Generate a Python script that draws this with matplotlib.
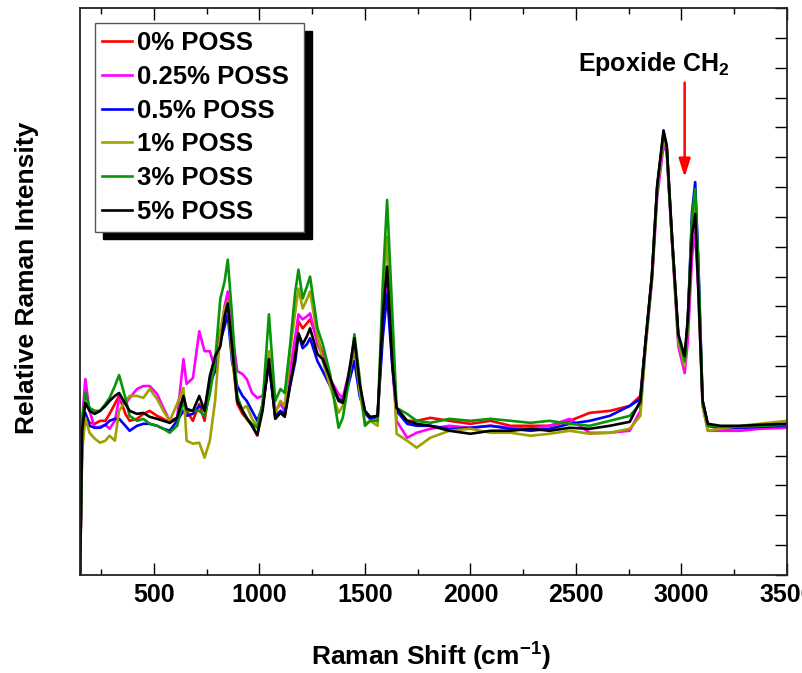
import matplotlib.pyplot as plt
from matplotlib.ticker import MultipleLocator

plt.rcParams['font.family'] = ['Liberation Sans', 'DejaVu Sans']
plt.rcParams['font.weight'] = 'bold'
plt.rcParams['mathtext.fontset'] = 'custom'
plt.rcParams['mathtext.rm'] = 'Liberation Sans:bold'
plt.rcParams['mathtext.bf'] = 'Liberation Sans:bold'
plt.rcParams['mathtext.it'] = 'Liberation Sans:bold'
plt.rcParams['mathtext.default'] = 'bf'

# Raman shift (cm-1), shared by all spectra
shift = [150, 160, 175, 195, 220, 245, 270, 290, 315, 335,
         365, 385, 420, 450, 480, 515, 545, 575, 610, 640,
         655, 685, 715, 740, 765, 790, 815, 835, 850, 870,
         895, 920, 940, 965, 990, 1015, 1045, 1075, 1100, 1120,
         1145, 1170, 1185, 1205, 1225, 1240, 1275, 1300, 1335, 1375,
         1395, 1420, 1450, 1475, 1500, 1525, 1560, 1585, 1605, 1630,
         1650, 1700, 1745, 1810, 1900, 2000, 2095, 2190, 2285, 2375,
         2470, 2565, 2660, 2755, 2805, 2830, 2860, 2885, 2915, 2930,
         2955, 2985, 3015, 3030, 3050, 3065, 3080, 3100, 3125, 3185,
         3280, 3370, 3500]

# relative intensities (arb. units)
poss_0 = [0, 135, 162, 153, 152, 155, 155, 162, 172, 180,
          162, 155, 157, 162, 165, 160, 157, 153, 157, 180,
          165, 155, 172, 155, 190, 215, 245, 263, 275, 225,
          172, 162, 157, 150, 140, 170, 215, 158, 165, 160,
          195, 230, 255, 248, 253, 257, 238, 222, 195, 177,
          175, 195, 228, 185, 163, 157, 159, 255, 305, 215,
          165, 155, 155, 158, 155, 152, 155, 150, 150, 150,
          155, 163, 165, 170, 180, 235, 300, 390, 443, 430,
          340, 240, 215, 255, 355, 375, 300, 175, 150, 147,
          148, 149, 150]
poss_025 = [0, 155, 197, 165, 148, 149, 151, 147, 155, 177,
            172, 178, 187, 190, 190, 182, 168, 155, 158, 217,
            192, 198, 245, 225, 225, 207, 240, 270, 285, 245,
            205, 202, 197, 183, 178, 180, 213, 165, 172, 165,
            205, 240, 262, 257, 260, 263, 232, 220, 197, 182,
            178, 200, 232, 190, 165, 158, 157, 255, 300, 210,
            155, 138, 143, 147, 150, 148, 150, 148, 147, 150,
            157, 143, 143, 145, 165, 230, 295, 380, 432, 425,
            335, 230, 203, 235, 320, 345, 285, 170, 145, 145,
            145, 147, 148]
poss_05 = [0, 135, 163, 150, 148, 148, 151, 155, 157, 157,
           150, 145, 150, 152, 152, 150, 147, 145, 155, 165,
           160, 162, 170, 167, 192, 205, 235, 250, 262, 215,
           190, 180, 175, 165, 155, 170, 212, 160, 165, 162,
           190, 215, 242, 228, 232, 238, 215, 205, 190, 177,
           175, 190, 215, 180, 163, 157, 160, 240, 282, 210,
           165, 152, 150, 150, 147, 148, 150, 147, 145, 147,
           152, 155, 160, 170, 177, 235, 300, 390, 442, 428,
           338, 238, 213, 255, 365, 395, 315, 175, 150, 148,
           148, 149, 150]
poss_1 = [0, 125, 158, 143, 137, 133, 135, 140, 135, 165,
          175, 180, 180, 178, 187, 177, 165, 155, 172, 188,
          135, 132, 133, 118, 135, 175, 245, 268, 275, 220,
          175, 167, 170, 157, 150, 172, 225, 163, 175, 170,
          225, 265, 288, 268, 277, 285, 240, 215, 190, 163,
          170, 195, 232, 185, 152, 155, 150, 275, 340, 235,
          142, 135, 128, 138, 145, 147, 143, 143, 140, 142,
          145, 142, 143, 147, 160, 230, 298, 387, 440, 427,
          337, 235, 210, 250, 350, 370, 295, 170, 145, 147,
          150, 152, 155]
poss_3 = [0, 155, 183, 168, 165, 165, 172, 178, 190, 201,
          178, 160, 155, 157, 152, 150, 147, 143, 150, 175,
          165, 165, 165, 160, 182, 215, 278, 295, 317, 262,
          180, 165, 157, 152, 148, 172, 262, 175, 187, 183,
          230, 285, 307, 278, 290, 300, 248, 232, 202, 148,
          158, 190, 242, 198, 150, 155, 155, 295, 377, 262,
          168, 162, 155, 153, 157, 155, 157, 155, 153, 155,
          152, 150, 155, 160, 172, 235, 300, 390, 445, 430,
          340, 240, 215, 255, 360, 388, 310, 175, 150, 149,
          149, 150, 151]
poss_5 = [0, 145, 173, 165, 162, 165, 170, 175, 180, 183,
          172, 165, 162, 163, 159, 157, 155, 153, 158, 180,
          167, 165, 180, 165, 200, 220, 230, 260, 273, 230,
          175, 165, 158, 150, 141, 165, 217, 157, 163, 159,
          190, 220, 243, 232, 240, 248, 222, 217, 198, 175,
          173, 198, 238, 192, 165, 159, 160, 262, 310, 212,
          168, 155, 152, 150, 145, 142, 145, 145, 147, 145,
          148, 147, 150, 154, 175, 235, 302, 392, 447, 432,
          340, 242, 220, 258, 342, 363, 285, 175, 152, 150,
          150, 151, 152]

labels = ['0% POSS', '0.25% POSS ', '0.5% POSS', '1% POSS', '3% POSS', '5% POSS']
colors = ['#ff0000', '#ff00ff', '#0000ff', '#a0a000', '#089608', '#000000']
spectra = [poss_0, poss_025, poss_05, poss_1, poss_3, poss_5]

fig = plt.figure(figsize=(8.02, 6.73), dpi=100)
ax = fig.add_axes([0.0998, 0.1456, 0.8815, 0.8425])

for y, c, lab in zip(spectra, colors, labels):
    ax.plot(shift, y, color=c, lw=1.9, label=lab)

ax.set_xlim(150, 3500)
ax.set_ylim(0, 570)
ax.xaxis.set_major_locator(MultipleLocator(500))
ax.xaxis.set_minor_locator(MultipleLocator(250))
ax.yaxis.set_major_locator(MultipleLocator(30))
ax.tick_params(axis='x', which='major', direction='in', top=True, length=8.5,
               width=1, labelsize=18, pad=6)
ax.tick_params(axis='x', which='minor', direction='in', top=True, length=4.5, width=1)
ax.tick_params(axis='y', which='both', direction='in', left=False, right=True,
               labelleft=False, length=8.5, width=1)
for sp in ax.spines.values():
    sp.set_linewidth(1.3)
    sp.set_color('#222222')

fig.text(39 / 802, 395.5 / 673, 'Relative Raman Intensity', rotation=90,
         ha='right', va='center', fontsize=19, fontweight='bold')
fig.text(431 / 802, 7 / 673, r'Raman Shift (cm$^{-1}$)', ha='center',
         va='baseline', fontsize=19, fontweight='bold')

# epoxide marker
ax.text(2510, 507, r'Epoxide CH$_2$', fontsize=18, fontweight='bold',
        ha='left', va='baseline')
ax.annotate('', xy=(3015, 400), xytext=(3015, 495),
            arrowprops=dict(arrowstyle='-|>,head_length=1.1,head_width=0.35',
                            color='red', lw=1.8, shrinkA=0, shrinkB=0,
                            mutation_scale=10))

leg = ax.legend(loc='upper left', bbox_to_anchor=(0.0205, 0.973),
                borderaxespad=0, fontsize=18.5, handlelength=1.17,
                handletextpad=0.2, borderpad=0.3, labelspacing=0.38,
                fancybox=False, framealpha=1,
                shadow={'ox': 6, 'oy': -5.5, 'color': 'black', 'alpha': 1})
leg.get_frame().set_edgecolor('#555555')
leg.get_frame().set_linewidth(1.0)

fig.savefig('out.png', dpi=100)
